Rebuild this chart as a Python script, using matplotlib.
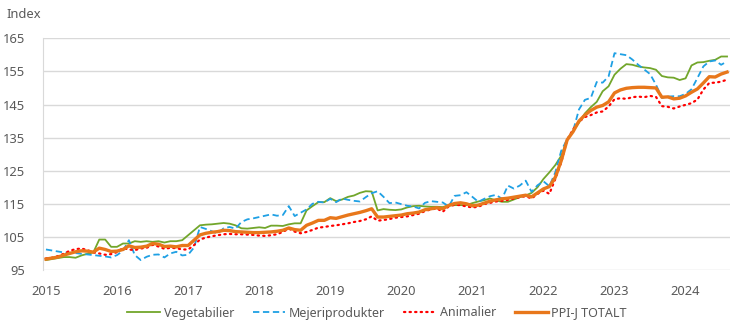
import matplotlib
matplotlib.use("Agg")
import matplotlib.pyplot as plt
import numpy as np
import pandas as pd

plt.rcParams['font.family'] = ['Noto Sans', 'DejaVu Sans']

# monthly index values, Jan 2015 - Aug 2024
months = pd.date_range("2015-01-01", "2024-08-01", freq="MS")

vegetabilier = [
    98.0, 98.3, 98.6, 98.9, 98.9, 98.7, 99.4, 99.9, 100.3, 104.2, 104.2, 102.0,
    102.0, 103.0, 103.0, 103.7, 103.5, 103.7, 103.5, 103.7, 103.3, 103.7, 103.7, 104.0,
    105.5, 107.0, 108.5, 108.7, 108.8, 109.0, 109.2, 109.0, 108.5, 107.6, 107.5, 107.7,
    107.9, 107.7, 108.4, 108.4, 108.3, 108.8, 109.1, 109.1, 113.0, 114.3, 115.5, 115.5,
    116.7, 115.8, 116.3, 117.1, 117.5, 118.3, 118.8, 118.7, 113.0, 113.4, 113.2, 113.1,
    113.3, 113.9, 114.3, 114.4, 114.2, 114.1, 114.1, 114.0, 114.5, 114.6, 114.6, 114.6,
    115.2, 115.7, 116.1, 116.6, 116.0, 115.6, 115.6, 116.3, 117.0, 117.5, 118.3, 120.0,
    122.5, 124.5, 126.7, 129.5, 134.3, 137.0, 139.5, 142.3, 144.2, 145.8, 149.0, 150.5,
    154.0, 155.8, 157.2, 157.0, 156.5, 156.2, 156.0, 155.5, 153.6, 153.2, 153.1, 152.4,
    152.9, 156.8, 157.7, 157.8, 158.2, 158.5, 159.5, 159.5,
]

mejeriprodukter = [
    101.2, 100.9, 100.6, 100.3, 100.2, 100.1, 99.9, 99.7, 99.5, 99.3, 99.1, 98.8,
    99.5, 100.8, 104.0, 99.5, 98.0, 99.0, 99.6, 99.7, 98.8, 100.0, 100.5, 99.4,
    99.6, 101.8, 108.0, 107.4, 106.7, 106.0, 107.6, 108.0, 107.5, 109.5, 110.3, 110.6,
    111.0, 111.4, 111.8, 111.4, 111.6, 114.3, 111.3, 112.3, 113.3, 115.0, 115.6, 115.4,
    116.5, 115.5, 116.6, 116.2, 115.9, 115.7, 117.0, 118.2, 118.8, 117.1, 115.2, 115.4,
    114.9, 114.4, 114.2, 113.6, 115.3, 115.8, 115.6, 115.4, 114.2, 117.4, 117.6, 118.5,
    117.1, 115.6, 116.5, 117.3, 117.7, 116.5, 120.5, 119.6, 120.5, 122.0, 118.6, 120.6,
    121.8, 120.3, 124.5, 131.0, 134.5, 137.0, 143.5, 146.4, 147.0, 151.8, 151.6, 153.5,
    160.5, 160.2, 159.9, 158.6, 157.0, 155.6, 154.2, 151.0, 147.0, 147.4, 147.5, 147.5,
    148.2, 149.6, 153.0, 156.5, 158.0, 158.3, 157.0, 158.0,
]

animalier = [
    98.5, 98.7, 99.2, 99.9, 100.8, 101.3, 101.5, 101.0, 100.3, 100.0, 99.6, 99.8,
    100.4, 101.6, 101.2, 101.0, 101.5, 101.7, 102.6, 102.1, 101.4, 101.7, 101.6, 101.2,
    101.2, 102.5, 104.2, 104.8, 105.2, 105.5, 105.8, 105.9, 105.8, 105.8, 105.7, 105.6,
    105.4, 105.3, 105.5, 105.8, 106.5, 107.5, 106.6, 106.1, 106.5, 107.1, 107.8, 108.0,
    108.3, 108.5, 108.8, 109.1, 109.5, 109.8, 110.3, 111.2, 109.9, 110.1, 110.4, 110.8,
    111.0, 111.2, 111.6, 112.0, 112.8, 113.3, 113.6, 112.6, 114.2, 114.7, 114.6, 114.2,
    113.9, 114.1, 114.9, 115.3, 115.7, 115.9, 116.2, 116.6, 117.0, 117.3, 116.6, 118.0,
    119.0, 118.0, 122.5, 127.5, 134.3, 137.5, 139.8, 141.2, 141.8, 142.6, 142.9, 144.4,
    146.6, 146.9, 146.7, 147.2, 147.4, 147.2, 147.6, 147.3, 144.5, 144.3, 143.8, 144.4,
    144.9, 145.4, 146.5, 149.5, 151.5, 151.6, 151.9, 152.5,
]

ppij_totalt = [
    98.3, 98.6, 98.9, 99.5, 100.0, 100.5, 100.8, 100.7, 100.4, 101.6, 101.2, 100.6,
    100.7, 101.2, 102.3, 101.8, 101.9, 102.2, 103.0, 102.8, 102.1, 102.2, 102.0, 102.4,
    102.4, 104.0, 105.6, 106.1, 106.4, 106.6, 107.0, 106.9, 106.6, 106.5, 106.4, 106.3,
    106.3, 106.4, 106.5, 106.7, 107.0, 107.7, 107.2, 107.0, 108.5, 109.2, 110.0, 110.0,
    110.8, 110.6, 111.1, 111.6, 112.0, 112.4, 112.9, 113.5, 111.0, 111.0, 111.2, 111.4,
    111.6, 112.0, 112.2, 112.5, 113.2, 113.5, 113.8, 113.5, 114.5, 115.1, 115.3, 115.0,
    114.4, 114.6, 115.2, 115.8, 116.2, 116.5, 116.7, 117.0, 117.3, 117.6, 117.1, 118.3,
    119.5, 120.2, 123.0, 128.0, 134.3, 136.8, 140.0, 141.8, 143.2, 144.2, 144.7, 145.8,
    148.5, 149.4, 149.9, 150.1, 150.2, 150.2, 150.1, 150.0, 147.2, 147.3, 146.7, 146.9,
    147.6, 148.7, 149.7, 151.5, 153.4, 153.3, 154.2, 154.8,
]

years = list(range(2015, 2025))
y_ticks = [95, 105, 115, 125, 135, 145, 155, 165]

df = pd.DataFrame({
    "Vegetabilier": vegetabilier,
    "Mejeriprodukter": mejeriprodukter,
    "Animalier": animalier,
    "PPI-J TOTALT": ppij_totalt,
}, index=months)

x = np.arange(len(df))
text_col = "#595959"

fig = plt.figure(figsize=(7.4, 3.29), dpi=100)
ax = fig.add_axes([43 / 740, 1 - 270 / 329, 687 / 740, 231.7 / 329])

ax.plot(x, df["Vegetabilier"], color="#72A62B", linewidth=1.3, label="Vegetabilier")
ax.plot(x, df["Mejeriprodukter"], color="#1FA0E4", linewidth=1.3,
        linestyle=(0, (3.5, 2)), label="Mejeriprodukter")
ax.plot(x, df["Animalier"], color="#FF0000", linewidth=1.6,
        linestyle=(0, (0.6, 1.9)), dash_capstyle="round", label="Animalier")
ax.plot(x, df["PPI-J TOTALT"], color="#E8771B", linewidth=2.4, label="PPI-J TOTALT")

ax.set_xlim(-0.5, len(df) - 0.5)
ax.set_ylim(95, 165)
ax.set_yticks(y_ticks)
ax.set_yticklabels([str(v) for v in y_ticks])
tick_pos = [list(df.index.year).index(yr) for yr in years]
ax.set_xticks(tick_pos)
ax.set_xticklabels([str(yr) for yr in years])

ax.grid(axis="y", color="#D9D9D9", linewidth=1)
ax.set_axisbelow(True)
for s in ["top", "right", "bottom"]:
    ax.spines[s].set_visible(False)
ax.spines["left"].set_color("#D9D9D9")
ax.tick_params(axis="both", length=0, labelsize=9.3, colors=text_col)
ax.tick_params(axis="y", pad=13)
ax.tick_params(axis="x", pad=11)

fig.text(6 / 740, 1 - 15 / 329, "Index", fontsize=9.3, color=text_col,
         ha="left", va="center")

fig.legend(loc="center", bbox_to_anchor=(377 / 740, 1 - 313 / 329), ncol=4,
           frameon=False, fontsize=9.0, handlelength=2.6, handletextpad=0.3,
           columnspacing=1.5, labelcolor=text_col)

fig.savefig("out.png", dpi=100)
